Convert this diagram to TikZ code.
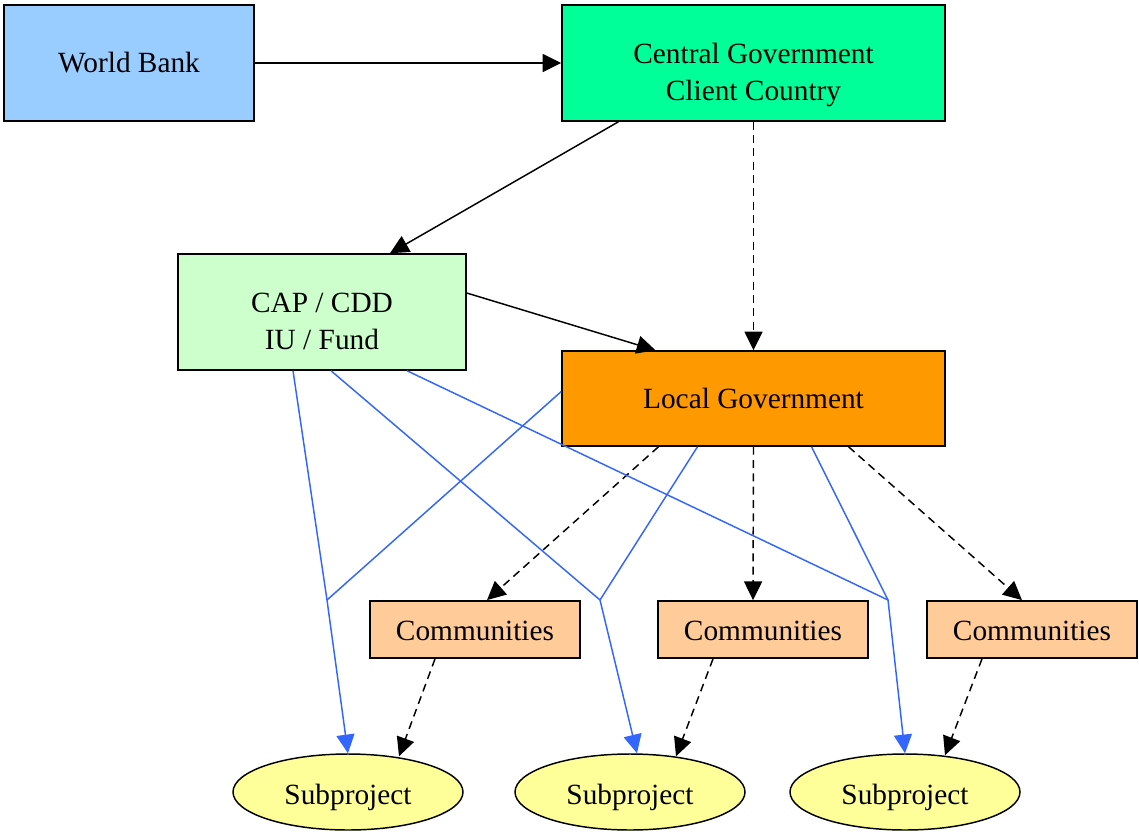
\documentclass[tikz,border=0pt]{standalone}
\usepackage{fontspec}
\setmainfont{Liberation Serif}
\usetikzlibrary{arrows.meta,shapes.geometric,calc}
\definecolor{bankblue}{HTML}{99CCFF}
\definecolor{govgreen}{HTML}{00FF99}
\definecolor{capgreen}{HTML}{CCFFCC}
\definecolor{localorange}{HTML}{FF9900}
\definecolor{commpeach}{HTML}{FFCC99}
\definecolor{subyellow}{HTML}{FFFF99}
\definecolor{flowblue}{HTML}{3366FF}
% label text drawn lower than the node centre, without changing the node size
\newcommand{\lowtext}[2]{\raisebox{-#1}[\height][\depth]{\begin{tabular}{@{}c@{}}#2\end{tabular}}}
\tikzset{
  box/.style={draw=black, line width=1.1pt, rectangle, align=center,
    inner sep=0pt, font=\fontsize{22}{27.75}\selectfont},
  subproj/.style={draw=black, line width=1.1pt, ellipse, fill=subyellow,
    inner sep=0pt, minimum width=172.5pt, minimum height=57pt,
    font=\fontsize{22}{27.75}\selectfont},
  tip/.style={-{Triangle[length=14pt,width=13.5pt]}},
  flow/.style={line width=1.1pt, tip},
  plan/.style={flow, dash pattern=on 6pt off 4pt},
  fund/.style={line width=1.1pt, draw=flowblue},
  fundarrow/.style={fund, tip, color=flowblue},
}
\begin{document}
\begin{tikzpicture}[x=0.75pt, y=-0.75pt]
\useasboundingbox (0,0) rectangle (1139,832);

% organisations
\node[box, fill=bankblue, minimum width=187.5pt, minimum height=87pt] (wb) at (129,63) {World Bank};
\node[box, fill=govgreen, minimum width=287.25pt, minimum height=87pt] (cg) at (753.5,63) {\lowtext{9pt}{Central Government\\Client Country}};
\node[box, fill=capgreen, minimum width=216pt, minimum height=87pt] (cap) at (322,312) {\lowtext{8.5pt}{CAP / CDD\\IU / Fund}};
\node[box, fill=localorange, minimum width=287.25pt, minimum height=71.25pt] (lg) at (753.5,398.5) {Local Government};

% communities
\node[box, fill=commpeach, minimum width=157.5pt, minimum height=43pt] (c1) at (475,629.5) {\lowtext{3pt}{Communities}};
\node[box, fill=commpeach, minimum width=157.5pt, minimum height=43pt] (c2) at (763,629.5) {\lowtext{3pt}{Communities}};
\node[box, fill=commpeach, minimum width=157.5pt, minimum height=43pt] (c3) at (1032,629.5) {\lowtext{3pt}{Communities}};

% subprojects
\node[subproj] (s1) at (348,792) {\lowtext{3.5pt}{Subproject}};
\node[subproj] (s2) at (630,792) {\lowtext{3.5pt}{Subproject}};
\node[subproj] (s3) at (905,792) {\lowtext{3.5pt}{Subproject}};

% points where the funding lines meet
\coordinate (m1) at (327,600);
\coordinate (m2) at (600,600);
\coordinate (m3) at (888,600);

% solid chain of command
\draw[flow] (wb.east) -- (cg.west);
\draw[flow] ($(cg.south)+(-135,0)$) -- ($(cap.north)+(68,0)$);
\draw[flow] ($(cap.east)+(0,-19)$) -- ($(lg.north)+(-98,0)$);

% dashed links
\draw[plan] (cg.south) -- (lg.north);
\draw[plan] ($(lg.south)+(-95,0)$) -- ($(c1.north)+(12,0)$);
\draw[plan] (lg.south) -- ($(c2.north)+(-10,0)$);
\draw[plan] ($(lg.south)+(95,0)$) -- ($(c3.north)+(-10,0)$);
\draw[plan] ($(c1.south)+(-40,0)$) -- ($(s1.north)+(51,3)$);
\draw[plan] ($(c2.south)+(-50,0)$) -- ($(s2.north)+(46,3)$);
\draw[plan] ($(c3.south)+(-50,0)$) -- ($(s3.north)+(40,2)$);

% funding lines
\draw[fund] ($(lg.west)+(0,-7)$) -- (m1);
\draw[fund] ($(lg.south)+(-56,0)$) -- (m2);
\draw[fund] ($(lg.south)+(58,0)$) -- (m3);
\draw[fundarrow] ($(cap.south)+(-29,0)$) -- (m1) -- (s1.north);
\draw[fundarrow] ($(cap.south)+(9,0)$) -- (m2) -- ($(s2.north)+(7,0)$);
\draw[fundarrow] ($(cap.south)+(85,0)$) -- (m3) -- (s3.north);
\end{tikzpicture}
\end{document}
